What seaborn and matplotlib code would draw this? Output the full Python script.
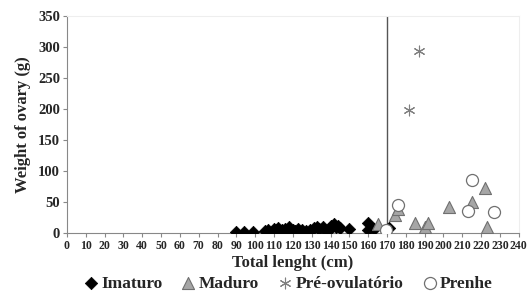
import seaborn as sns
import numpy as np
import pandas as pd
import matplotlib.pyplot as plt

sns.set_style("white")
plt.rcParams['font.family'] = ['Liberation Serif', 'DejaVu Serif']
plt.rcParams['font.weight'] = 'bold'

# data
imaturo_x = [90, 94, 99, 105, 107, 109, 110, 111, 112, 113, 114, 116, 117, 118, 120, 121,
             123, 125, 127, 129, 131, 133, 134, 136, 137, 139, 140, 141, 142, 143, 144, 145,
             150, 160, 160, 163, 171]
imaturo_y = [2, 2, 2, 3, 5, 2, 6, 4, 8, 3, 5, 7, 4, 9, 5, 3,
             6, 4, 3, 5, 8, 10, 6, 9, 4, 7, 12, 9, 14, 10, 12, 8,
             6, 16, 5, 6, 8]
maduro_x = [165, 174, 176, 185, 190, 192, 203, 215, 222, 223]
maduro_y = [15, 29, 38, 16, 9, 16, 42, 50, 72, 10]
preov_x = [181.5, 187]
preov_y = [198, 294]
prenhe_x = [169.5, 176, 213, 215, 227]
prenhe_y = [4, 45, 35, 85, 33]

fig = plt.figure(figsize=(5.31, 2.96), dpi=100)
ax = fig.add_axes([0.126, 0.213, 0.851, 0.733])

ax.axvline(170, color='#555555', lw=1, zorder=1)

sns.scatterplot(x=imaturo_x, y=imaturo_y, marker='D', s=40, color='black',
                edgecolor='black', linewidth=0.5, label='Imaturo', ax=ax, zorder=3)
sns.scatterplot(x=maduro_x, y=maduro_y, marker='^', s=75, color='#a6a6a6',
                edgecolor='#707070', linewidth=0.8, label='Maduro', ax=ax, zorder=3)
sns.scatterplot(x=preov_x, y=preov_y, marker=(6, 2, 0), s=60, color='#808080',
                linewidth=0.8, label='Pré-ovulatório', ax=ax, zorder=3)
sns.scatterplot(x=prenhe_x, y=prenhe_y, marker='o', s=75, color='white',
                edgecolor='#707070', linewidth=0.9, label='Prenhe', ax=ax, zorder=4)

ax.set_xlim(0, 240)
ax.set_ylim(0, 350)
ax.set_xticks(np.arange(0, 241, 10))
ax.set_yticks(np.arange(0, 351, 50))
ax.tick_params(axis='x', labelsize=8.5, length=3, color='#888888', direction='out', pad=2)
ax.tick_params(axis='y', labelsize=10.5, length=3, color='#888888', direction='out', pad=2)
ax.xaxis.set_ticks_position('bottom')
ax.yaxis.set_ticks_position('left')
for lab in ax.get_xticklabels() + ax.get_yticklabels():
    lab.set_fontweight('bold')

ax.spines['left'].set_color('#888888')
ax.spines['bottom'].set_color('#888888')
ax.spines['top'].set_color('#eeeeee')
ax.spines['right'].set_color('#eeeeee')

ax.set_xlabel('Total lenght (cm)', fontsize=12, fontweight='bold', labelpad=2)
ax.set_ylabel('Weight of ovary (g)', fontsize=12, fontweight='bold', labelpad=5)

ax.legend(loc='upper center', bbox_to_anchor=(0.49, -0.197), ncol=4, frameon=False,
          prop={'size': 12.5, 'weight': 'bold'}, handlelength=0.8, handletextpad=0.2,
          columnspacing=1.1, borderaxespad=0, borderpad=0, markerscale=1.0)

fig.savefig('out.png', dpi=100)
